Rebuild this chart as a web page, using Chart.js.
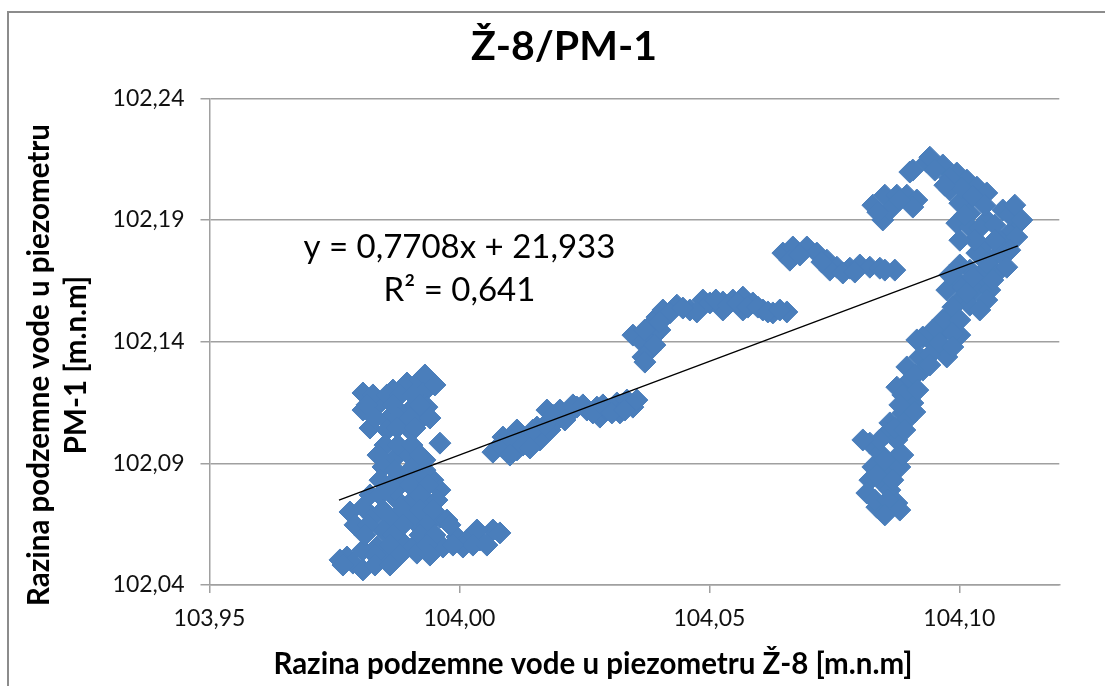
<!DOCTYPE html>
<html>
<head>
<meta charset="utf-8">
<title>Ž-8/PM-1</title>
<script src="https://cdn.jsdelivr.net/npm/chart.js@4.4.1/dist/chart.umd.min.js"></script>
<style>
  html, body { margin: 0; padding: 0; background: #fff; overflow: hidden; }
  /* the chart is wider than the window; its right edge is cut off like in the original */
  #wrap { position: relative; width: 1128px; height: 686px; }
  #frame {
    position: absolute; left: 7px; top: 11px; width: 1114px; height: 800px;
    border: 2px solid #8c8c8c; box-sizing: border-box; pointer-events: none;
  }
</style>
</head>
<body>
<div id="wrap">
  <canvas id="chart"></canvas>
  <div id="frame"></div>
</div>
<script>
// Razina podzemne vode u piezometru Ž-8 (x) i PM-1 (y), m.n.m
const razinaZ8 = [
  // lijeva nakupina
  103.9807, 103.9807, 103.9841, 103.9867, 103.9895, 103.9921, 103.9931, 103.9927,
  103.9907, 103.9881, 103.9855, 103.9821, 103.9855, 103.9895, 103.9921, 103.9935,
  103.9961, 103.9867, 103.9895, 103.9847, 103.9907, 103.9841, 103.9881, 103.9921,
  103.9947, 103.9961, 103.9781, 103.9807, 103.9827, 103.9875, 103.9901, 103.9935,
  103.9955, 103.9961, 103.9907, 103.9867, 103.9847, 103.9881, 103.9907, 103.9835,
  103.9807, 103.9775, 103.9761, 103.9787, 103.9807, 103.9855, 103.9915, 103.9975,
  103.9995, 104.0015, 104.0041, 104.0067, 104.0081, 104.0035, 104.0007, 103.9967,
  103.9871, 103.9931, 103.9821, 103.9931, 103.9951,
  103.9827, 103.9855, 103.9881, 103.9907, 103.9815, 103.9867, 103.9921, 103.9831,
  103.9877, 103.9901, 103.9941, 103.9875, 103.9911, 103.9851, 103.9877, 103.9905,
  103.9837, 103.9921, 103.9871, 103.9931, 103.9861, 103.9901, 103.9937, 103.9841,
  103.9921, 103.9847, 103.9887, 103.9921, 103.9947, 103.9791, 103.9817, 103.9887,
  103.9935, 103.9981, 103.9811, 103.9867, 103.9921, 103.9951, 103.9861, 103.9935,
  104.0027, 104.0055, 103.9831, 103.9881, 103.9941, 103.9987, 103.9767, 103.9831,
  103.9861,
  // donji srednji niz
  104.0067, 104.0095, 104.0115, 104.0087, 104.0115, 104.0135, 104.0161, 104.0175,
  104.0181, 104.0195, 104.0221, 104.0235, 104.0255, 104.0281, 104.0295, 104.0315,
  104.0335, 104.0347, 104.0321, 104.0275, 104.0201, 104.0155,
  104.0081, 104.0105, 104.0127, 104.0147, 104.0171, 104.0187, 104.0211, 104.0227,
  104.0247, 104.0267, 104.0287, 104.0305, 104.0331, 104.0355, 104.0101, 104.0141,
  // gornji srednji niz
  104.0347, 104.0367, 104.0367, 104.0381, 104.0387, 104.0387, 104.0395, 104.0407,
  104.0435, 104.0461, 104.0487, 104.0501, 104.0527, 104.0547, 104.0567, 104.0587,
  104.0607, 104.0627, 104.0655, 104.0421, 104.0475, 104.0527, 104.0567, 104.0401,
  104.0371, 104.0401, 104.0447, 104.0513, 104.0537, 104.0557, 104.0577, 104.0597,
  104.0617, 104.0641, 104.0371, 104.0391,
  // gore desno
  104.0647, 104.0667, 104.0695, 104.0715, 104.0735, 104.0755, 104.0781, 104.0801,
  104.0821, 104.0841, 104.0871, 104.0661, 104.0741, 104.0767,
  104.0681, 104.0725, 104.0791, 104.0851,
  104.0827, 104.0851, 104.0875, 104.0895, 104.0915, 104.0847, 104.0861, 104.0907,
  104.0881, 104.0837,
  104.0901, 104.0935, 104.0967, 104.0995, 104.1015, 104.1035, 104.1055, 104.0981,
  104.1001, 104.1021, 104.0995, 104.1021, 104.1055, 104.1087, 104.1115, 104.1101,
  104.1081, 104.1047, 104.1035, 104.1061, 104.1021, 104.0995, 104.0975, 104.1007,
  104.1047, 104.1075, 104.1087, 104.1121, 104.0941, 104.0907, 104.1115, 104.1081,
  104.0951, 104.0981, 104.1005, 104.1027, 104.0971, 104.1051, 104.1011, 104.1041,
  104.1071, 104.1101, 104.1071, 104.1031, 104.1001, 104.1051, 104.1101, 104.1111,
  104.1125, 104.1001, 104.0981, 104.1031, 104.1061, 104.1001, 104.1021, 104.0981,
  104.0971, 104.0941, 104.0951, 104.1001,
  // desni okomiti niz
  104.1055, 104.1095, 104.1067, 104.1027, 104.1015, 104.1055, 104.1041, 104.0987,
  104.0967, 104.1001, 104.0947, 104.0927, 104.0915, 104.0961, 104.0987, 104.0975,
  104.0921, 104.0927, 104.0895, 104.0901, 104.0875, 104.0895, 104.0907, 104.0887,
  104.0861, 104.0895, 104.0855, 104.0875, 104.0821, 104.0841, 104.0875, 104.0827,
  104.0861, 104.0881, 104.0821, 104.0847, 104.0815, 104.0861, 104.0835, 104.0875,
  104.0941, 104.0987, 104.0911, 104.0941, 104.0887, 104.0917, 104.0881, 104.0911,
  104.0871, 104.0841, 104.0891, 104.0807, 104.0851, 104.0887, 104.0835, 104.0867,
  104.0831, 104.0857, 104.0881, 104.0851
];
const razinaPM1 = [
  102.1189, 102.1119, 102.1148, 102.1201, 102.1230, 102.1242, 102.1263, 102.1189,
  102.1131, 102.1107, 102.1078, 102.1045, 102.1037, 102.1049, 102.1078, 102.1131,
  102.0983, 102.0914, 102.0942, 102.0885, 102.0885, 102.0831, 102.0844, 102.0844,
  102.0831, 102.0790, 102.0700, 102.0720, 102.0679, 102.0749, 102.0737, 102.0720,
  102.0749, 102.0679, 102.0667, 102.0667, 102.0626, 102.0585, 102.0556, 102.0556,
  102.0544, 102.0515, 102.0503, 102.0490, 102.0462, 102.0515, 102.0531, 102.0667,
  102.0597, 102.0585, 102.0585, 102.0626, 102.0614, 102.0626, 102.0556, 102.0556,
  102.0790, 102.0914, 102.0770, 102.0626, 102.1222,
  102.1181, 102.1181, 102.1181, 102.1181, 102.1140, 102.1140, 102.1140, 102.1086,
  102.1086, 102.1086, 102.1086, 102.1045, 102.1045, 102.0975, 102.0975, 102.0975,
  102.0934, 102.0934, 102.0872, 102.0872, 102.0811, 102.0811, 102.0811, 102.0770,
  102.0770, 102.0708, 102.0708, 102.0708, 102.0708, 102.0647, 102.0647, 102.0647,
  102.0647, 102.0647, 102.0605, 102.0605, 102.0605, 102.0605, 102.0564, 102.0564,
  102.0564, 102.0564, 102.0523, 102.0523, 102.0523, 102.0564, 102.0482, 102.0482,
  102.0482,
  102.0946, 102.0955, 102.0955, 102.1008, 102.1037, 102.1008, 102.0996, 102.1119,
  102.1037, 102.1078, 102.1107, 102.1131, 102.1119, 102.1090, 102.1119, 102.1148,
  102.1160, 102.1131, 102.1107, 102.1131, 102.1119, 102.1049,
  102.0975, 102.0996, 102.0975, 102.1037, 102.1057, 102.1098, 102.1078, 102.1140,
  102.1140, 102.1107, 102.1140, 102.1107, 102.1119, 102.1160, 102.0934, 102.0963,
  102.1427, 102.1394, 102.1337, 102.1365, 102.1419, 102.1476, 102.1501, 102.1530,
  102.1550, 102.1530, 102.1571, 102.1559, 102.1563, 102.1571, 102.1583, 102.1559,
  102.1530, 102.1518, 102.1522, 102.1518, 102.1522, 102.1530, 102.1530, 102.1448,
  102.1448, 102.1481, 102.1538, 102.1571, 102.1550, 102.1559, 102.1542, 102.1542,
  102.1522, 102.1530, 102.1316, 102.1386,
  102.1764, 102.1789, 102.1789, 102.1764, 102.1735, 102.1706, 102.1702, 102.1715,
  102.1706, 102.1702, 102.1694, 102.1735, 102.1694, 102.1682,
  102.1756, 102.1727, 102.1686, 102.1694,
  102.1961, 102.2002, 102.2002, 102.2002, 102.1982, 102.1900, 102.1941, 102.1953,
  102.1982, 102.1932,
  102.2097, 102.2138, 102.2126, 102.2093, 102.2064, 102.2035, 102.2011, 102.2023,
  102.1969, 102.1928, 102.1887, 102.1871, 102.1900, 102.1941, 102.1900, 102.1846,
  102.1817, 102.1789, 102.1764, 102.1735, 102.1694, 102.1653, 102.1612, 102.1624,
  102.1641, 102.1682, 102.1776, 102.1891, 102.2158, 102.2105, 102.1830, 102.1764,
  102.2105, 102.2072, 102.2031, 102.1998, 102.2043, 102.1961, 102.1920, 102.1867,
  102.1879, 102.1920, 102.1817, 102.1817, 102.1817, 102.1694, 102.1776, 102.1961,
  102.1900, 102.1715, 102.1674, 102.1612, 102.1612, 102.1571, 102.1550, 102.1509,
  102.1448, 102.1407, 102.1365, 102.1427,
  102.1723, 102.1706, 102.1653, 102.1665, 102.1600, 102.1571, 102.1530, 102.1542,
  102.1489, 102.1489, 102.1448, 102.1419, 102.1407, 102.1394, 102.1435, 102.1337,
  102.1337, 102.1283, 102.1296, 102.1242, 102.1213, 102.1172, 102.1148, 102.1107,
  102.1066, 102.1078, 102.1024, 102.0996, 102.0983, 102.0942, 102.0926, 102.0885,
  102.0872, 102.0885, 102.0831, 102.0819, 102.0778, 102.0790, 102.0720, 102.0737,
  102.1345, 102.1378, 102.1263, 102.1304, 102.1181, 102.1201, 102.1140, 102.1111,
  102.1045, 102.0996, 102.1037, 102.0996, 102.0914, 102.0934, 102.0852, 102.0831,
  102.0749, 102.0749, 102.0708, 102.0688
];

// linearni trend: y = 0,7708x + 21,933 (krajnje tocke ocitane sa slike)
const trendX = [103.9759, 104.1117];
const trendY = [102.0749, 102.1794];
const trendText = ["y = 0,7708x + 21,933", "R² = 0,641"];
const trendTextX = 104.00;
const trendTextY = [102.1789, 102.1612];

const xTickValues = [103.95, 104.00, 104.05, 104.10];
const yTickValues = [102.04, 102.09, 102.14, 102.19, 102.24];

const xTitle = "Razina podzemne vode u piezometru Ž-8 [m.n.m]";
const yTitle = ["Razina podzemne vode u piezometru", "PM-1 [m.n.m]"];

const FONT = "Lato, 'Open Sans', sans-serif";
const GRID = "#a0a0a0";
const BLUE = "#4a7ebb";
const SIDE = 68.7; // equal side padding keeps the title centred on the frame

function fmt(v) {
  return Number(v).toFixed(2).replace(".", ",");
}

const points = razinaZ8.map((x, i) => ({ x: x, y: razinaPM1[i] }));
const trend = trendX.map((x, i) => ({ x: x, y: trendY[i] }));

// equation label, anchored in data units
const trendLabel = {
  id: "trendLabel",
  afterDatasetsDraw(chart) {
    const { ctx, scales } = chart;
    ctx.save();
    ctx.font = "33px " + FONT;
    ctx.fillStyle = "#000";
    ctx.textAlign = "center";
    ctx.textBaseline = "middle";
    trendText.forEach((t, i) => {
      ctx.fillText(t, scales.x.getPixelForValue(trendTextX), scales.y.getPixelForValue(trendTextY[i]));
    });
    ctx.restore();
  }
};

// axis titles sit off-centre in the original, so they are drawn here
const axisTitles = {
  id: "axisTitles",
  afterDraw(chart) {
    const ctx = chart.ctx;
    ctx.save();
    ctx.font = "bold 29.5px " + FONT;
    ctx.fillStyle = "#000";
    ctx.textAlign = "center";
    ctx.textBaseline = "middle";
    ctx.fillText(xTitle, 593, 664);
    ctx.translate(0, 365);
    ctx.rotate(-Math.PI / 2);
    ctx.fillText(yTitle[0], 0, 39.5);
    ctx.fillText(yTitle[1], 0, 76);
    ctx.restore();
  }
};

new Chart(document.getElementById("chart"), {
  type: "scatter",
  data: {
    datasets: [
      {
        label: "trend",
        data: trend,
        showLine: true,
        borderColor: "#000",
        borderWidth: 1.3,
        pointRadius: 0,
        order: 0,
      },
      {
        label: "PM-1",
        data: points,
        pointStyle: "rectRot",
        pointRadius: 11,
        backgroundColor: BLUE,
        borderColor: BLUE,
        borderWidth: 1,
        order: 1,
      },
    ],
  },
  options: {
    responsive: true,
    maintainAspectRatio: false,
    animation: false,
    layout: { padding: { left: SIDE, right: SIDE, top: 0, bottom: 0 } },
    scales: {
      x: {
        type: "linear",
        min: 103.95,
        max: 104.12,
        afterBuildTicks: s => { s.ticks = xTickValues.map(v => ({ value: v })); },
        afterFit: s => { s.height = 101; },
        ticks: {
          callback: v => fmt(v),
          font: { family: FONT, size: 23 },
          color: "#111",
          padding: 12,
          maxRotation: 0,
          autoSkip: false,
        },
        grid: { drawOnChartArea: false, tickLength: 8, color: GRID, lineWidth: 1.5 },
        border: { color: GRID, width: 1.5 },
      },
      y: {
        type: "linear",
        min: 102.04,
        max: 102.24,
        afterBuildTicks: s => { s.ticks = yTickValues.map(v => ({ value: v })); },
        afterFit: s => { s.width = 209.5 - SIDE; },
        ticks: {
          callback: v => fmt(v),
          font: { family: FONT, size: 23 },
          color: "#111",
          padding: 16,
          autoSkip: false,
        },
        grid: { tickLength: 9, color: GRID, lineWidth: 1.5 },
        border: { color: GRID, width: 1.5 },
      },
    },
    plugins: {
      legend: { display: false },
      tooltip: { enabled: false },
      title: {
        display: true,
        text: "Ž-8/PM-1",
        font: { family: FONT, size: 41, weight: "bold" },
        color: "#000",
        padding: { top: 22, bottom: 27.1 },
      },
    },
  },
  plugins: [trendLabel, axisTitles],
});
</script>
</body>
</html>
